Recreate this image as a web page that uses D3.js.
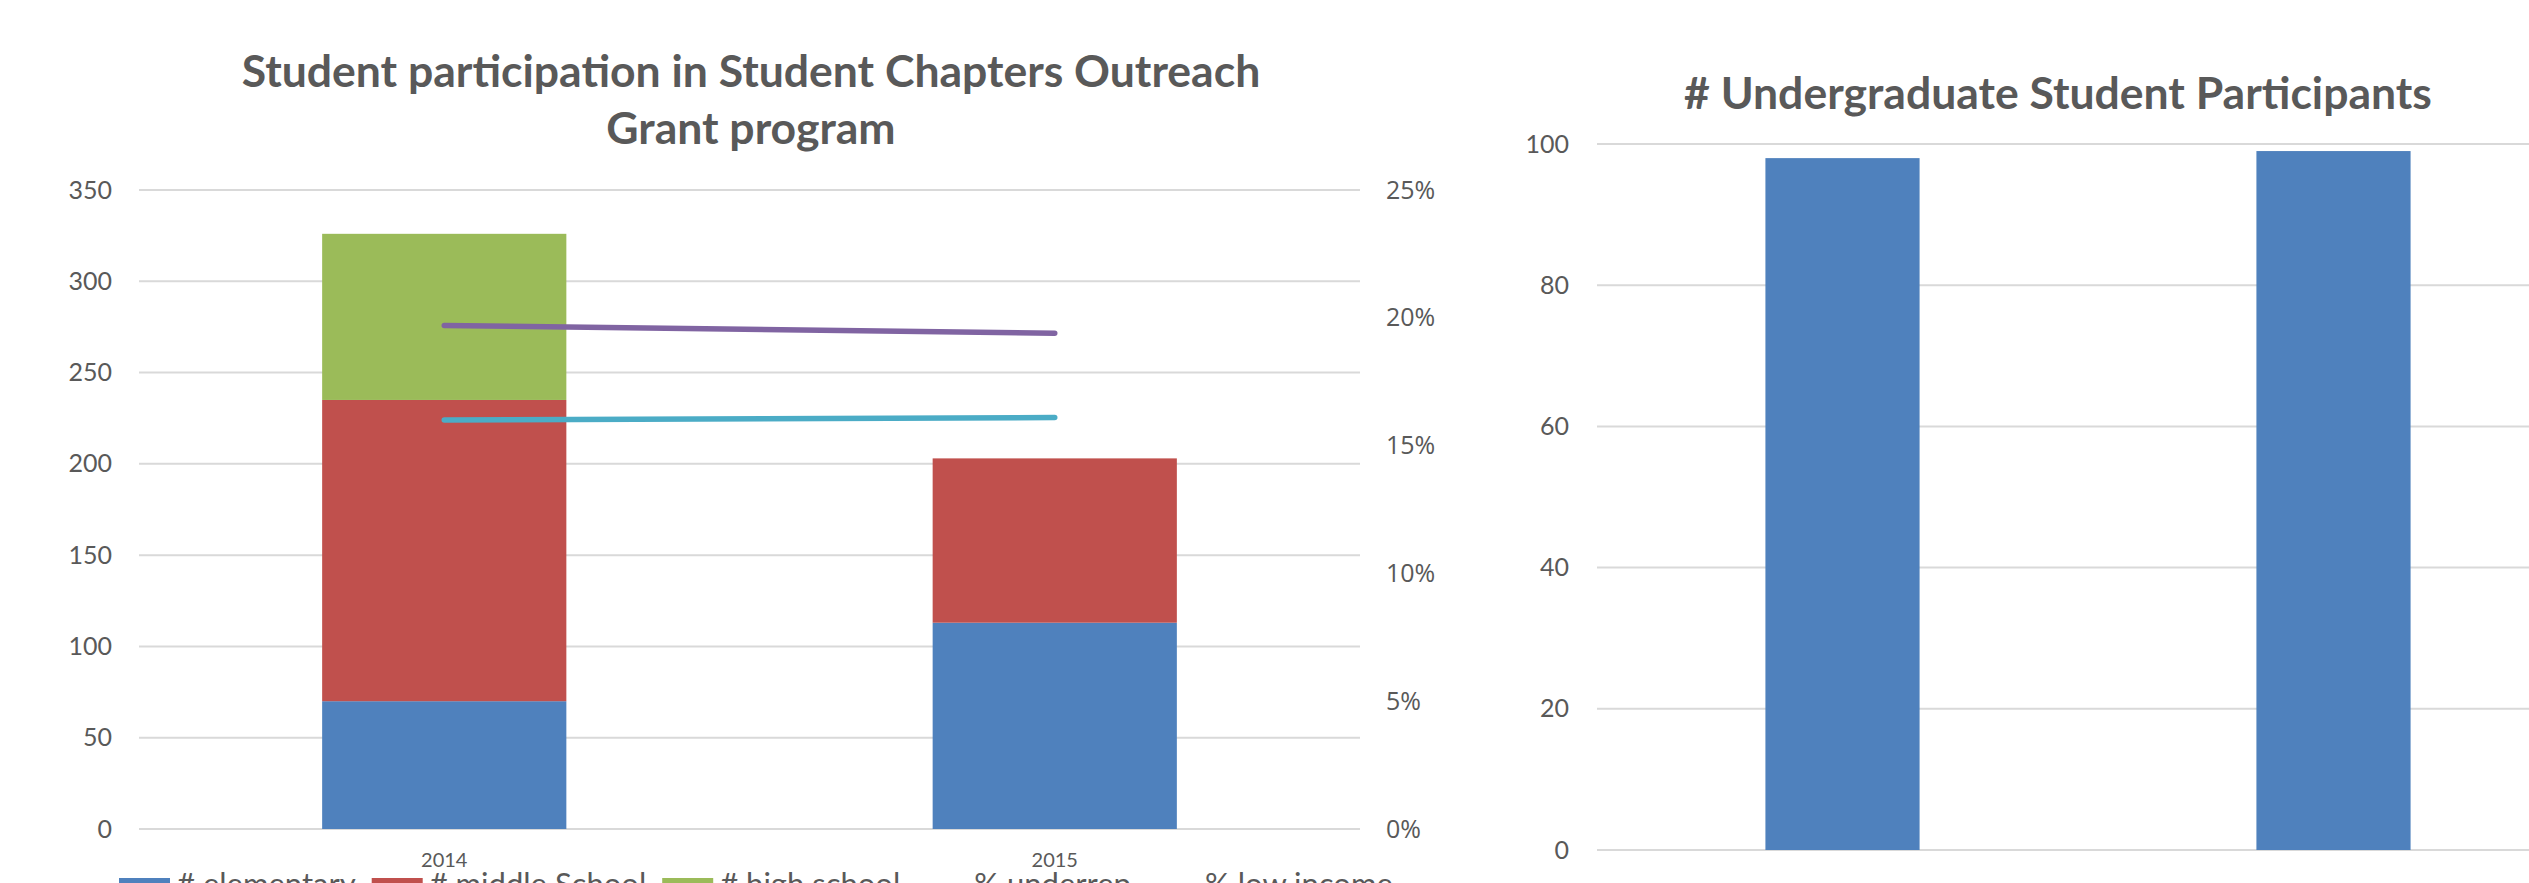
<!DOCTYPE html>
<html>
<head>
<meta charset="utf-8">
<script src="https://d3js.org/d3.v7.min.js"></script>
<style>
  body { margin: 0; background: #fff; }
  svg text { fill: #595959; font-family: Lato, "Open Sans", sans-serif; }
  .pct text { font-family: "Open Sans", sans-serif; }
</style>
</head>
<body>
<svg id="chart" width="2529" height="883"></svg>
<script>
// ---- data ----
var years = ["2014", "2015"];
var elementary = [70, 113];
var middleSchool = [165, 90];
var highSchool = [91, 0];
var underrep = [0.197, 0.194];
var lowIncome = [0.160, 0.161];
var countTicks = [0, 50, 100, 150, 200, 250, 300, 350];
var pctTicks = [0, 0.05, 0.10, 0.15, 0.20, 0.25];

var ugradYears = ["2014", "2015"];
var ugrad = [98, 99];
var ugradTicks = [0, 20, 40, 60, 80, 100];

var seriesNames = ["# elementary", "# middle School", "# high school", "% underrep", "% low income"];
var colors = ["#4F81BD", "#C0504D", "#9BBB59", "#8064A2", "#4BACC6"];

var svg = d3.select("#chart");
var gridColor = "#d9d9d9";

// ================= left chart =================
var pLeft = 139, pRight = 1360, pTop = 190, pBottom = 829;

var x = d3.scaleBand().domain(years).range([pLeft, pRight])
  .paddingInner(0.6).paddingOuter(0.3);
var y = d3.scaleLinear().domain([0, 350]).range([pBottom, pTop]);
var y2 = d3.scaleLinear().domain([0, 0.25]).range([pBottom, pTop]);

// gridlines
svg.append("g").selectAll("line").data(countTicks).enter().append("line")
  .attr("x1", pLeft).attr("x2", pRight)
  .attr("y1", function(d) { return y(d); }).attr("y2", function(d) { return y(d); })
  .attr("stroke", gridColor).attr("stroke-width", 2);

// left axis labels
var yAxis = d3.axisLeft(y).tickValues(countTicks).tickSize(0).tickPadding(0);
var gy = svg.append("g").attr("transform", "translate(112,0)").call(yAxis);
gy.select(".domain").remove();
gy.selectAll("text").attr("font-size", 25).style("font-family", "Lato");

// right axis labels (percent)
var y2Axis = d3.axisRight(y2).tickValues(pctTicks).tickSize(0).tickPadding(0)
  .tickFormat(d3.format(".0%"));
var gy2 = svg.append("g").attr("class", "pct").attr("transform", "translate(1386,0)").call(y2Axis);
gy2.select(".domain").remove();
gy2.selectAll("text").attr("font-size", 25).style("font-family", "Open Sans");

// stacked bars
var rows = years.map(function(yr, i) {
  return { year: yr, elementary: elementary[i], middle: middleSchool[i], high: highSchool[i] };
});
var stack = d3.stack().keys(["elementary", "middle", "high"])(rows);

svg.append("g").selectAll("g").data(stack).enter().append("g")
  .attr("fill", function(d, i) { return colors[i]; })
  .selectAll("rect").data(function(d) { return d; }).enter().append("rect")
  .attr("x", function(d) { return x(d.data.year); })
  .attr("width", x.bandwidth())
  .attr("y", function(d) { return y(d[1]); })
  .attr("height", function(d) { return y(d[0]) - y(d[1]); });

// percentage lines on secondary axis
var line = d3.line()
  .x(function(d, i) { return x(years[i]) + x.bandwidth() / 2; })
  .y(function(d) { return y2(d); });

[underrep, lowIncome].forEach(function(s, k) {
  svg.append("path").datum(s)
    .attr("d", line)
    .attr("fill", "none")
    .attr("stroke", colors[3 + k])
    .attr("stroke-width", 5.5)
    .attr("stroke-linecap", "round");
});

// x labels
svg.append("g").selectAll("text").data(years).enter().append("text")
  .attr("x", function(d) { return x(d) + x.bandwidth() / 2; })
  .attr("y", 867)
  .attr("text-anchor", "middle")
  .attr("font-size", 20)
  .text(function(d) { return d; });

// title
var t = svg.append("text").attr("text-anchor", "middle")
  .attr("font-size", 44.5).attr("font-weight", "bold");
t.append("tspan").attr("x", 751).attr("y", 87).text("Student participation in Student Chapters Outreach");
t.append("tspan").attr("x", 751).attr("y", 144).text("Grant program");

// legend (mostly below the visible area)
var lx = 119;
seriesNames.forEach(function(name, i) {
  var g = svg.append("g");
  if (i < 3) {
    g.append("rect").attr("x", lx).attr("y", 878).attr("width", 51).attr("height", 17)
      .attr("fill", colors[i]);
  } else {
    g.append("line").attr("x1", lx).attr("x2", lx + 51).attr("y1", 889).attr("y2", 889)
      .attr("stroke", colors[i]).attr("stroke-width", 5);
  }
  var txt = g.append("text").attr("x", lx + 58).attr("y", 895)
    .attr("font-size", 31).text(name);
  lx = lx + 58 + txt.node().getComputedTextLength() + 16;
});

// ================= right chart =================
var rLeft = 1597, rRight = 2579, rTop = 144, rBottom = 850;

var xr = d3.scaleBand().domain(ugradYears).range([rLeft, rRight])
  .paddingInner(0.686).paddingOuter(0.343);
var yr = d3.scaleLinear().domain([0, 100]).range([rBottom, rTop]);

svg.append("g").selectAll("line").data(ugradTicks).enter().append("line")
  .attr("x1", rLeft).attr("x2", rRight)
  .attr("y1", function(d) { return yr(d); }).attr("y2", function(d) { return yr(d); })
  .attr("stroke", gridColor).attr("stroke-width", 2);

var yrAxis = d3.axisLeft(yr).tickValues(ugradTicks).tickSize(0).tickPadding(0);
var gyr = svg.append("g").attr("transform", "translate(1569,0)").call(yrAxis);
gyr.select(".domain").remove();
gyr.selectAll("text").attr("font-size", 25).style("font-family", "Lato");

svg.append("g").selectAll("rect").data(ugrad).enter().append("rect")
  .attr("x", function(d, i) { return xr(ugradYears[i]); })
  .attr("width", xr.bandwidth())
  .attr("y", function(d) { return yr(d); })
  .attr("height", function(d) { return yr(0) - yr(d); })
  .attr("fill", colors[0]);

svg.append("text")
  .attr("x", 2058).attr("y", 109)
  .attr("text-anchor", "middle")
  .attr("font-size", 44.5).attr("font-weight", "bold")
  .text("# Undergraduate Student Participants");

// axis text colour
svg.selectAll(".tick text").style("fill", "#595959");
</script>
</body>
</html>
